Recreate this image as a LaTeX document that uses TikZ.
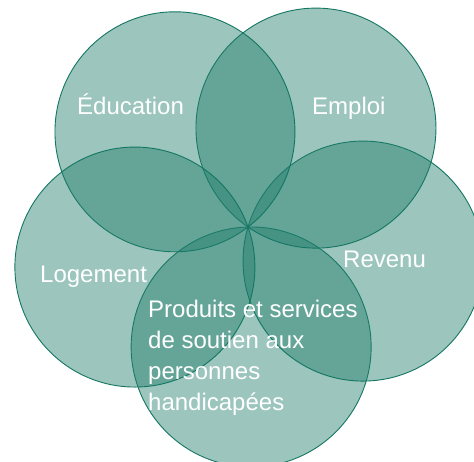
\documentclass[tikz,border=0pt]{standalone}
\usepackage{fontspec}
\setmainfont{Liberation Sans}
\definecolor{vfill}{RGB}{33,126,108}
\definecolor{vline}{RGB}{20,118,98}
\begin{document}
\begin{tikzpicture}[x=1pt,y=-1pt,
  petal/.style={fill=vfill,fill opacity=0.45,draw=vline,line width=0.9pt},
  lbl/.style={text=white,inner sep=0pt,font=\fontsize{24}{31}\selectfont}]
\useasboundingbox (0,0) rectangle (474,462);
\coordinate (o) at (248,227);
\foreach \n/\a in {prod/271.5,rev/343.5,emp/55.5,edu/127.5,log/199.5}{
  \path (o) ++ ({120*cos(\a)},{-120*sin(\a)}) coordinate (\n);
  \draw[petal] (\n) circle[radius=120];
}
\node[lbl,anchor=base west] (tedu) at (77,115) {Éducation};
\node[lbl,anchor=base west] (temp) at (312,115) {Emploi};
\node[lbl,anchor=base west] (tlog) at (40,283) {Logement};
\node[lbl,anchor=base west] (trev) at (343,268) {Revenu};
\node[lbl,anchor=north west,align=left] (tprod) at (148,299.5) {Produits et services\\de soutien aux\\personnes\\handicapées};
\end{tikzpicture}
\end{document}
